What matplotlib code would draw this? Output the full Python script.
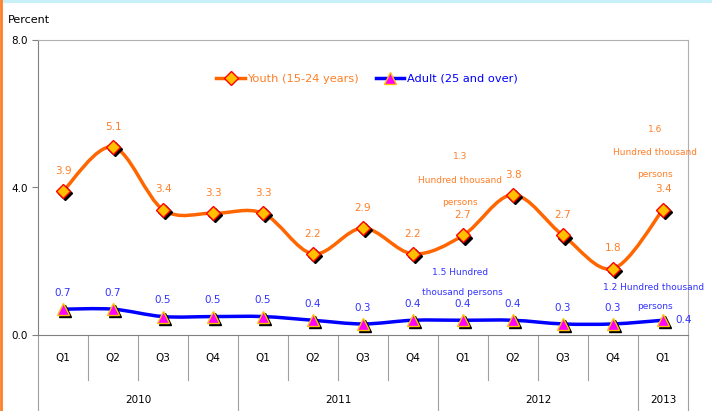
import numpy as np
import matplotlib.pyplot as plt
from matplotlib.path import Path
from matplotlib.patches import PathPatch
import matplotlib.transforms as mtransforms

# data
quarters = ["Q1", "Q2", "Q3", "Q4", "Q1", "Q2", "Q3", "Q4", "Q1", "Q2", "Q3", "Q4", "Q1"]
years = ["2010", "2011", "2012", "2013"]
year_spans = [(0, 3), (4, 7), (8, 11), (12, 12)]
youth = [3.9, 5.1, 3.4, 3.3, 3.3, 2.2, 2.9, 2.2, 2.7, 3.8, 2.7, 1.8, 3.4]
adult = [0.7, 0.7, 0.5, 0.5, 0.5, 0.4, 0.3, 0.4, 0.4, 0.4, 0.3, 0.3, 0.4]

# note lines: (x, y, text)
youth_notes = [(7.94, 4.83, "1.3"), (7.94, 4.2, "Hundred thousand"), (7.94, 3.58, "persons"),
               (11.84, 5.57, "1.6"), (11.84, 4.96, "Hundred thousand"), (11.84, 4.34, "persons")]
adult_notes = [(7.95, 1.7, "1.5 Hundred"), (7.98, 1.16, "thousand persons"),
               (11.82, 1.3, "1.2 Hundred thousand"), (11.84, 0.78, "persons")]

orange = "#FF6600"
orange_txt = "#FF7F27"
blue = "#0000FF"
blue_txt = "#3333FF"


def smooth_path(xs, ys, t=0.5 / 3):
    # Bezier path through the points (Excel style smoothing)
    xs = np.asarray(xs, float)
    ys = np.asarray(ys, float)
    verts = [(xs[0], ys[0])]
    codes = [Path.MOVETO]
    n = len(xs)
    for i in range(n - 1):
        p0 = i - 1 if i > 0 else i
        p3 = i + 2 if i + 2 < n else i + 1
        c1 = (xs[i] + (xs[i + 1] - xs[p0]) * t, ys[i] + (ys[i + 1] - ys[p0]) * t)
        c2 = (xs[i + 1] - (xs[p3] - xs[i]) * t, ys[i + 1] - (ys[p3] - ys[i]) * t)
        verts += [c1, c2, (xs[i + 1], ys[i + 1])]
        codes += [Path.CURVE4] * 3
    return Path(verts, codes)


fig = plt.figure(figsize=(7.12, 4.11), dpi=100)
ax = fig.add_axes([38 / 712, 1 - 335 / 411, 650 / 712, 295 / 411])

x = np.arange(len(quarters))

ax.add_patch(PathPatch(smooth_path(x, youth), fill=False, color=orange, lw=2.5, zorder=3))
ax.add_patch(PathPatch(smooth_path(x, adult), fill=False, color=blue, lw=2.5, zorder=3))

shadow = mtransforms.offset_copy(ax.transData, fig=fig, x=1.5, y=-1.5, units="points")
ax.plot(x, youth, "D", ms=7, color="black", transform=shadow, zorder=4)
ax.plot(x, youth, "D", ms=7, mfc="#FFC000", mec="#FF0000", mew=1, zorder=5)
ax.plot(x, adult, "^", ms=9, color="black", transform=shadow, zorder=4)
ax.plot(x, adult, "^", ms=9, mfc="#FF00FF", mec="#FFC000", mew=1, zorder=5)

# legend handles
ax.plot([], [], "-D", color=orange, lw=2.5, ms=7, mfc="#FFC000", mec="#FF0000", label="Youth (15-24 years)")
ax.plot([], [], "-^", color=blue, lw=2.5, ms=8, mfc="#FF00FF", mec="#FFC000", label="Adult (25 and over)")
leg = ax.legend(loc="upper center", bbox_to_anchor=(0.506, 0.92), ncol=2, frameon=False,
                fontsize=8.2, handlelength=2.5, handletextpad=0.2, columnspacing=1.5)
for txt, c in zip(leg.get_texts(), [orange_txt, blue]):
    txt.set_color(c)

# data labels
for i, v in enumerate(youth):
    ax.annotate(f"{v:.1f}", (i, v), xytext=(0, 11), textcoords="offset points",
                ha="center", va="bottom", fontsize=7.5, color=orange_txt)
for i, v in enumerate(adult):
    if i == len(adult) - 1:
        ax.annotate(f"{v:.1f}", (i, v), xytext=(9, 0), textcoords="offset points",
                    ha="left", va="center", fontsize=7.5, color=blue_txt)
    else:
        ax.annotate(f"{v:.1f}", (i, v), xytext=(0, 8), textcoords="offset points",
                    ha="center", va="bottom", fontsize=7.5, color=blue_txt)

# notes
for nx, ny, s in youth_notes:
    ax.text(nx, ny, s, ha="center", va="center", fontsize=6.5, color=orange_txt)
for nx, ny, s in adult_notes:
    ax.text(nx, ny, s, ha="center", va="center", fontsize=6.5, color=blue_txt)

ax.set_xlim(-0.5, len(quarters) - 0.5)
ax.set_ylim(0, 8)
ax.set_yticks([0, 4, 8])
ax.set_yticklabels(["0.0", "4.0", "8.0"], fontsize=7.5)
ax.set_xticks([])
for s in ["top", "right", "bottom"]:
    ax.spines[s].set_color("#B0B0B0")
ax.spines["left"].set_color("#808080")
ax.spines["bottom"].set_color("#808080")
ax.tick_params(axis="y", length=4, color="#808080")

# category axis below the plot
tr = ax.get_xaxis_transform()
for b in np.arange(-0.5, len(quarters), 1.0):
    is_year = b in (-0.5, 3.5, 7.5, 11.5, 12.5)
    ax.plot([b, b], [0, -0.258 if is_year else -0.153], color="#A0A0A0", lw=0.8,
            transform=tr, clip_on=False)
for i, q in enumerate(quarters):
    ax.text(i, -0.078, q, ha="center", va="center", fontsize=7.5, transform=tr)
for yr, (a, b) in zip(years, year_spans):
    ax.text((a + b) / 2, -0.22, yr, ha="center", va="center", fontsize=7.5, transform=tr)

fig.text(8 / 712, 1 - 20 / 411, "Percent", fontsize=8, va="center", ha="left")

# outer frame edges
fig.add_artist(plt.Line2D([0, 1], [0.997, 0.997], color="#C8F0F8", lw=3, transform=fig.transFigure))
fig.add_artist(plt.Line2D([0.002, 0.002], [0, 1], color="#FF7F27", lw=2, transform=fig.transFigure))

fig.savefig("out.png", dpi=100)
